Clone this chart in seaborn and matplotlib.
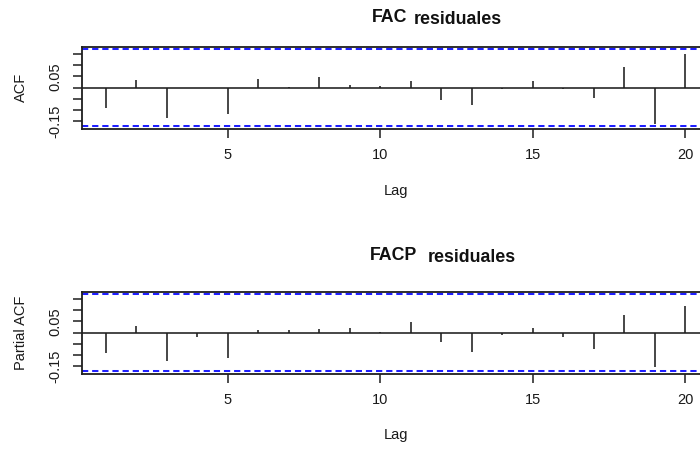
import numpy as np
import pandas as pd
import matplotlib
matplotlib.use("Agg")
import matplotlib.pyplot as plt
import seaborn as sns

# ---- data ----
lags = list(range(1, 21))
acf_vals = [-0.090, 0.035, -0.135, -0.002, -0.120, 0.040, 0.002, 0.047, 0.010, 0.007,
            0.029, -0.054, -0.078, -0.007, 0.029, -0.007, -0.048, 0.090, -0.162, 0.149]
pacf_vals = [-0.092, 0.027, -0.129, -0.022, -0.115, 0.009, 0.010, 0.016, 0.021, 0.002,
             0.046, -0.043, -0.086, -0.012, 0.021, -0.022, -0.073, 0.077, -0.155, 0.120]
ci_bound = 0.172
x_ticks = [5, 10, 15, 20]
y_ticks = [-0.15, -0.10, -0.05, 0.0, 0.05, 0.10, 0.15]
y_tick_labels = ["-0.15", "", "", "", "0.05", "", ""]
titles = [("FAC", "residuales"), ("FACP", "residuales")]
ylabels = ["ACF", "Partial ACF"]
xlabel = "Lag"

sns.set_theme(style="white")
plt.rcParams["font.family"] = ["Liberation Sans", "DejaVu Sans"]
plt.rcParams["lines.scale_dashes"] = False

W, H = 700, 450
fig = plt.figure(figsize=(7, 4.5), dpi=100)
fig.patch.set_facecolor("white")

# axes boxes in pixel coords: (left, top, right, bottom)
boxes = [(82, 46.5, 710, 128.5), (82, 291.5, 710, 373.5)]
title_pos = [((372, 21.5), (414, 24.0)), ((369.5, 260.0), (427.5, 262.0))]
series = [acf_vals, pacf_vals]

for i, (l, t, r, b) in enumerate(boxes):
    ax = fig.add_axes([l / W, 1 - b / H, (r - l) / W, (b - t) / H])
    ax.set_facecolor("white")
    df = pd.DataFrame({"lag": lags, "val": series[i]})
    ax.vlines(df["lag"], 0, df["val"], color="#1e1e1e", lw=1.15)
    ax.axhline(0, color="#1e1e1e", lw=1.15)
    for s in (ci_bound, -ci_bound):
        ax.axhline(s, color="#1f1fff", lw=1.45, dashes=(4.5, 2.8))
    ax.set_xlim(0.22, 0.22 + (r - l) / 30.5)
    ax.set_ylim(-0.184, 0.184)
    ax.set_xticks(x_ticks)
    ax.set_xticklabels([str(v) for v in x_ticks])
    ax.set_yticks(y_ticks)
    ax.set_yticklabels(y_tick_labels, rotation=90, va="center")
    ax.tick_params(axis="both", which="major", direction="out", length=6.5, width=1.1,
                   color="#1e1e1e", labelsize=10.5, labelcolor="#1a1a1a",
                   bottom=True, left=True, pad=7.5)
    for sp in ax.spines.values():
        sp.set_visible(True)
        sp.set_color("#1e1e1e")
        sp.set_linewidth(1.3)
    # axis labels
    fig.text(396 / W, 1 - ((b + 62) / H), xlabel, ha="center", va="center",
             fontsize=10.5, color="#1a1a1a")
    fig.text(21 / W, 1 - (((t + b) / 2) / H), ylabels[i], ha="center", va="center",
             rotation=90, fontsize=10.5, color="#1a1a1a")
    # title
    (x1, y1), (x2, y2) = title_pos[i]
    fig.text(x1 / W, 1 - y1 / H, titles[i][0], ha="left", va="baseline",
             fontsize=12.8, fontweight="bold", color="#111111")
    fig.text(x2 / W, 1 - y2 / H, titles[i][1], ha="left", va="baseline",
             fontsize=12.8, fontweight="bold", color="#111111")

fig.savefig("out.png", dpi=100, facecolor="white")
